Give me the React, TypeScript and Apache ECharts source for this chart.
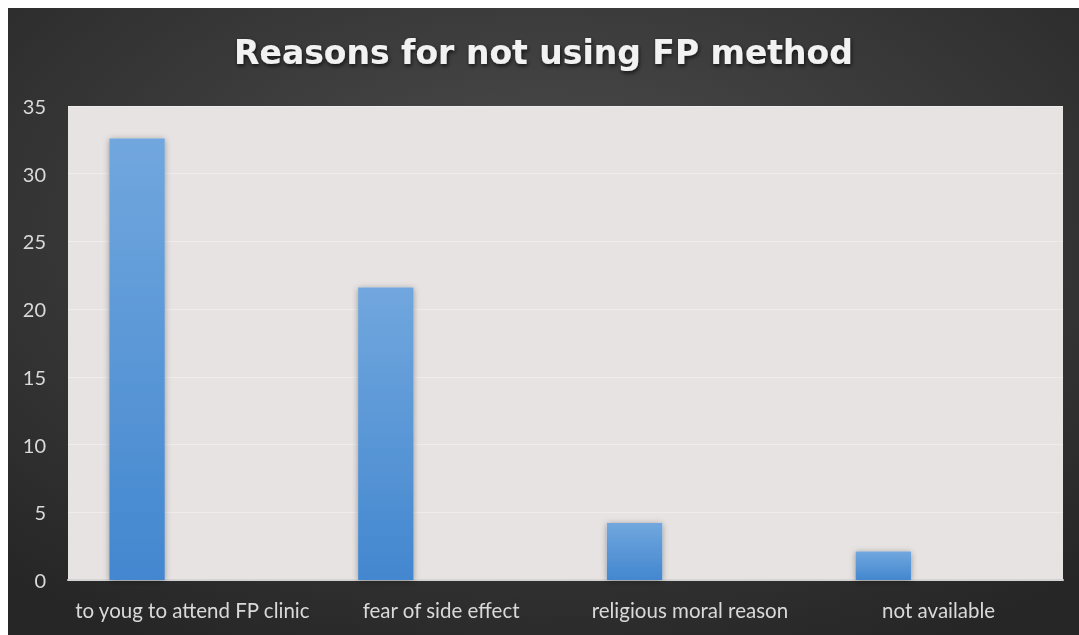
import React, { useEffect, useRef } from "react";
import * as echarts from "echarts";

const categories = [
  "to youg to attend FP clinic",
  "fear of side effect",
  "religious moral reason",
  "not available",
];
const seriesValues = [32.6, 21.6, 4.2, 2.1];
const emptySeriesA: (number | null)[] = [null, null, null, null];
const emptySeriesB: (number | null)[] = [null, null, null, null];
const yTicks = { min: 0, max: 35, interval: 5 };
const titleText = "Reasons for not using FP method";

export default function App() {
  const ref = useRef<HTMLDivElement>(null);
  useEffect(() => {
    if (!ref.current) return;
    const chart = echarts.init(ref.current, undefined, { renderer: "svg" });
    const barColor = new echarts.graphic.LinearGradient(0, 0, 0, 1, [
      { offset: 0, color: "#71A7DE" },
      { offset: 1, color: "#4387CF" },
    ]);
    chart.setOption({
      animation: false,
      backgroundColor: new echarts.graphic.RadialGradient(0.5, 0.35, 0.75, [
        { offset: 0, color: "#4E4E4E" },
        { offset: 1, color: "#262626" },
      ]),
      title: {
        text: titleText,
        left: "center",
        top: 23,
        textStyle: {
          color: "#F2F2F2",
          fontFamily: "DejaVu Sans",
          fontWeight: "bold",
          fontSize: 33,
          textShadowColor: "rgba(0,0,0,0.7)",
          textShadowBlur: 4,
          textShadowOffsetX: 1,
          textShadowOffsetY: 2,
        },
      },
      grid: {
        left: 60,
        top: 98,
        right: 16,
        bottom: 55,
        show: true,
        backgroundColor: "#E7E3E3",
        borderWidth: 0,
        containLabel: false,
      },
      xAxis: {
        type: "category",
        data: categories,
        axisLine: { show: true, lineStyle: { color: "#D4D4D4", width: 2 } },
        axisTick: { show: false },
        axisLabel: {
          color: "#D9D9D9",
          fontFamily: "Lato",
          fontSize: 20.5,
          margin: 19,
          interval: 0,
        },
      },
      yAxis: {
        type: "value",
        min: yTicks.min,
        max: yTicks.max,
        interval: yTicks.interval,
        axisLine: { show: false },
        axisTick: { show: false },
        axisLabel: {
          color: "#D9D9D9",
          fontFamily: "Lato",
          fontSize: 20,
          margin: 22,
        },
        splitLine: { show: true, lineStyle: { color: "#EEECEC", width: 1 } },
      },
      series: [
        {
          type: "bar",
          data: seriesValues,
          barGap: "0%",
          barCategoryGap: "33.3%",
          itemStyle: {
            color: barColor,
            shadowColor: "rgba(0,0,0,0.35)",
            shadowBlur: 6,
            shadowOffsetX: 0,
            shadowOffsetY: 1,
          },
        },
        { type: "bar", data: emptySeriesA, barGap: "0%", barCategoryGap: "33.3%" },
        { type: "bar", data: emptySeriesB, barGap: "0%", barCategoryGap: "33.3%" },
      ],
    });
    return () => chart.dispose();
  }, []);
  return (
    <div
      ref={ref}
      style={{ position: "fixed", left: 8, top: 8, width: 1071, height: 627 }}
    />
  );
}
